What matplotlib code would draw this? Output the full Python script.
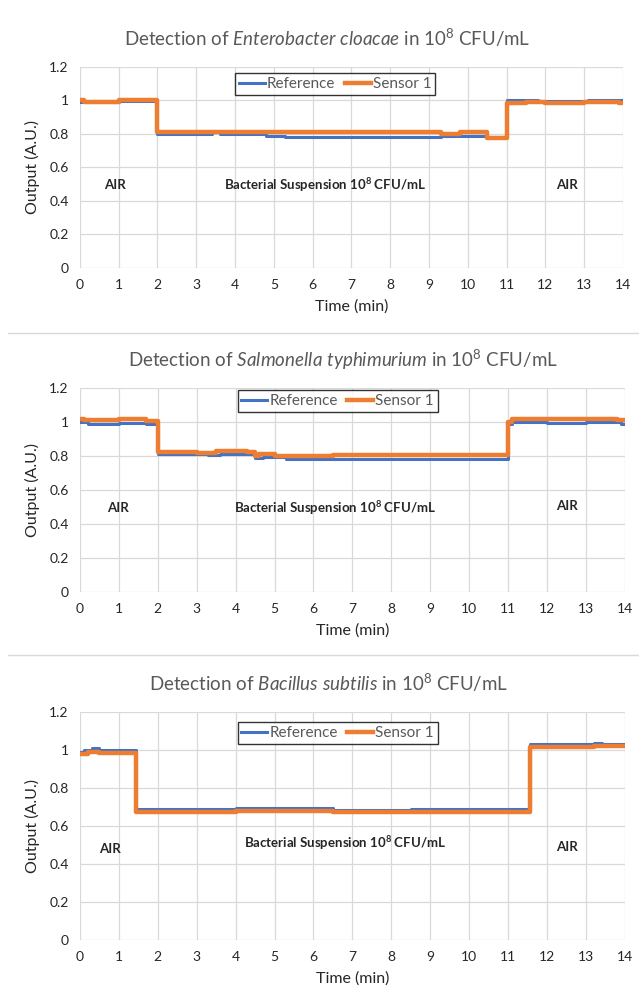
import matplotlib
matplotlib.use("Agg")
import matplotlib.pyplot as plt
from matplotlib.lines import Line2D

plt.rcParams["font.family"] = ["Lato", "DejaVu Sans"]
plt.rcParams["mathtext.fontset"] = "custom"
plt.rcParams["mathtext.rm"] = "Lato"
plt.rcParams["mathtext.it"] = "Lato:italic"
plt.rcParams["mathtext.bf"] = "Lato:bold"

# panel 1 - Enterobacter cloacae
t_ref1 = [0, 0.5, 0.7, 1.0, 2.0, 3.4, 3.6, 4.8, 5.3, 9.3, 10.5, 11.0, 11.5, 11.8, 13.1, 13.7, 14.0]
ref1 = [0.99, 0.995, 0.99, 0.995, 0.80, 0.81, 0.80, 0.79, 0.785, 0.79, 0.785, 1.0, 1.005, 0.995, 1.005, 1.0, 1.0]
t_sen1 = [0, 0.1, 1.0, 2.0, 9.3, 9.8, 10.5, 11.0, 11.5, 12.0, 13.0, 13.9, 14.0]
sen1 = [1.0, 0.99, 1.0, 0.81, 0.80, 0.81, 0.775, 0.985, 0.99, 0.985, 0.99, 0.985, 0.985]

# panel 2 - Salmonella typhimurium
t_ref2 = [0, 0.2, 1.0, 1.7, 2.0, 3.3, 3.6, 4.5, 4.7, 5.3, 6.0, 11.0, 11.1, 12.0, 13.0, 13.9, 14.0]
ref2 = [1.0, 0.99, 0.995, 0.99, 0.81, 0.805, 0.81, 0.79, 0.795, 0.78, 0.785, 0.99, 1.0, 0.995, 1.0, 0.99, 0.99]
t_sen2 = [0, 0.1, 1.0, 1.7, 2.0, 3.0, 3.5, 4.3, 4.5, 4.6, 5.0, 6.5, 11.0, 11.1, 11.8, 13.0, 13.8, 14.0]
sen2 = [1.02, 1.01, 1.015, 1.005, 0.825, 0.82, 0.83, 0.825, 0.80, 0.81, 0.80, 0.805, 1.0, 1.02, 1.015, 1.02, 1.01, 1.01]

# panel 3 - Bacillus subtilis
t_ref3 = [0, 0.1, 0.3, 0.5, 1.45, 4.0, 6.5, 8.5, 11.55, 13.2, 13.4, 14.0]
ref3 = [0.99, 1.0, 1.01, 1.0, 0.69, 0.695, 0.685, 0.69, 1.03, 1.035, 1.03, 1.03]
t_sen3 = [0, 0.2, 0.5, 1.45, 4.0, 6.5, 11.55, 13.2, 14.0]
sen3 = [0.98, 0.99, 0.985, 0.675, 0.68, 0.675, 1.015, 1.02, 1.02]

titles = [
    r"Detection of $\it{Enterobacter\ cloacae}$ in 10$^{8}$ CFU/mL",
    r"Detection of $\it{Salmonella\ typhimurium}$ in 10$^{8}$ CFU/mL",
    r"Detection of $\it{Bacillus\ subtilis}$ in 10$^{8}$ CFU/mL",
]
panels = [
    (t_ref1, ref1, t_sen1, sen1),
    (t_ref2, ref2, t_sen2, sen2),
    (t_ref3, ref3, t_sen3, sen3),
]
# label positions (data coords): left AIR, suspension, right AIR
label_pos = [
    [(0.9, 0.495), (6.32, 0.495), (12.55, 0.495)],
    [(0.98, 0.494), (6.55, 0.494), (12.5, 0.506)],
    [(0.77, 0.479), (6.81, 0.51), (12.5, 0.489)],
]
axes_rect = [
    [0.125, 0.7336, 0.850, 0.1998],
    [0.125, 0.4115, 0.853, 0.2028],
    [0.125, 0.0656, 0.853, 0.2266],
]
legend_anchor = [(0.47, 0.97), (0.473, 0.99), (0.473, 0.956)]
title_x = [0.455, 0.483, 0.457]

BLUE = "#4472C4"
ORANGE = "#ED7D31"
GREY = "#595959"

fig = plt.figure(figsize=(6.39, 10.06), dpi=100)

for i in range(3):
    ax = fig.add_axes(axes_rect[i])
    tr, r, ts, s = panels[i]
    ax.plot(tr, r, drawstyle="steps-post", color=BLUE, lw=2.2, label="Reference")
    ax.plot(ts, s, drawstyle="steps-post", color=ORANGE, lw=3.2, label="Sensor 1")
    ax.set_xlim(0, 14)
    ax.set_ylim(0, 1.2)
    ax.set_xticks(range(0, 15))
    ax.set_yticks([0, 0.2, 0.4, 0.6, 0.8, 1.0, 1.2])
    ax.set_yticklabels(["0", "0.2", "0.4", "0.6", "0.8", "1", "1.2"])
    ax.grid(True, color="#d9d9d9", lw=0.9)
    ax.set_axisbelow(True)
    for sp in ax.spines.values():
        sp.set_visible(False)
    ax.tick_params(length=0, labelsize=10, labelcolor="#262626")
    ax.tick_params(axis="x", pad=8)
    ax.tick_params(axis="y", pad=8)
    ax.set_xlabel("Time (min)", fontsize=11.5, color="#262626", labelpad=6)
    ax.set_ylabel("Output (A.U.)", fontsize=11.5, color="#262626", labelpad=7)
    ax.set_title(titles[i], fontsize=13.5, color=GREY, pad=15, x=title_x[i])

    (x1, y1), (x2, y2), (x3, y3) = label_pos[i]
    ax.text(x1, y1, "AIR", fontsize=9.5, fontweight="bold", color="#262626", ha="center", va="center")
    ax.text(x2, y2, r"Bacterial Suspension 10$^{\mathbf{8}}$ CFU/mL", fontsize=9.5,
            fontweight="bold", color="#262626", ha="center", va="center")
    ax.text(x3, y3, "AIR", fontsize=9.5, fontweight="bold", color="#262626", ha="center", va="center")

    leg = ax.legend(loc="upper center", bbox_to_anchor=legend_anchor[i], ncol=2,
                    fontsize=11, frameon=True, fancybox=False, borderpad=0.25,
                    handlelength=1.7, handletextpad=0.15, columnspacing=0.6,
                    borderaxespad=0)
    leg.get_frame().set_edgecolor("black")
    leg.get_frame().set_linewidth(1.0)
    for txt in leg.get_texts():
        txt.set_color(GREY)

# separator lines between panels
for y in [1 - 333 / 1006, 1 - 655 / 1006]:
    fig.add_artist(Line2D([8 / 639, 1.0], [y, y], color="#d9d9d9", lw=1.0))

fig.savefig("out.png", dpi=100, facecolor="white")
